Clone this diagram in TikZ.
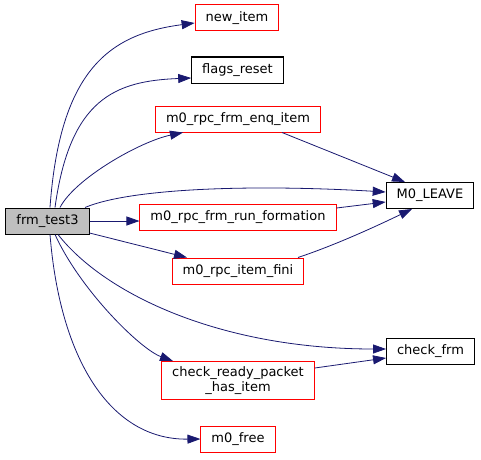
\documentclass[tikz,border=0pt]{standalone}
\usepackage{fontspec}
\setmainfont{DejaVu Sans}
\usepackage{tikz}
\usetikzlibrary{
  arrows.meta,
  positioning,
  calc
}
\definecolor{edgeblue}{HTML}{191970}
\definecolor{boxred}{HTML}{FF0000}

\begin{document}
\begin{tikzpicture}[
      x=1pt, y=1pt,
      >={Triangle[length=13pt,width=9pt]},
      every node/.style={font=\fontsize{13}{15}\selectfont},
      fnbox/.style={draw=black, line width=1pt, inner xsep=10.5pt, inner ysep=5pt, minimum height=26pt},
      fnred/.style={fnbox, draw=boxred},
      fnmain/.style={fnbox, fill=gray!50},
      call/.style={->, draw=edgeblue, line width=0.8pt}
  ]
      \useasboundingbox (0,0) rectangle (481,459);

      % Função principal
      \node[fnmain] (frm) at (47.5,238) {frm\_test3};

      % Funções chamadas
      \node[fnred] (newitem) at (237,441) {new\_item};
      \node[fnbox] (flagsreset) at (237.5,389) {flags\_reset};
      \node[fnred] (enqitem) at (238,340) {m0\_rpc\_frm\_enq\_item};
      \node[fnred] (runform) at (238,241.5) {m0\_rpc\_frm\_run\_formation};
      \node[fnred] (itemfini) at (238,188) {m0\_rpc\_item\_fini};
      \node[fnred, align=center] (checkready) at (238,78.5) {check\_ready\_packet\\\_has\_item};
      \node[fnred] (mfree) at (238,20) {m0\_free};

      % Folhas
      \node[fnbox] (leave) at (430,263.5) {M0\_LEAVE};
      \node[fnbox] (checkfrm) at (430.5,107.5) {check\_frm};

      % Chamadas de frm_test3
      \draw[call] ([xshift=2.5]frm.north) .. controls +(10,139) and +(-84,-11) .. ([yshift=-5]newitem.west);
      \draw[call] ([xshift=7.5]frm.north) .. controls +(15,109) and +(-76,-3) .. ([yshift=-8]flagsreset.west);
      \draw[call] ([xshift=12.5]frm.north) .. controls +(15,29) and +(-43,-9) .. ([xshift=-55]enqitem.south);
      \draw[call] ([xshift=37.5]frm.north) .. controls +(45,19) and +(-136,8) .. ([yshift=3.5]leave.west);
      \draw[call] (frm.east) -- (frm.east -| runform.west);
      \draw[call] ([yshift=-12]frm.east) -- ([xshift=-51]itemfini.north);
      \draw[call] ([xshift=10.5]frm.south) .. controls +(47,-60) and +(-165,0) .. ([yshift=2.5]checkfrm.west);
      \draw[call] ([xshift=7.5]frm.south) .. controls +(25,-55) and +(-33,12) .. ([xshift=-65]checkready.north);
      \draw[call] ([xshift=2.5]frm.south) .. controls +(10,-125) and +(-90,-1) .. (mfree.west);

      % Chamadas internas
      \draw[call] ([xshift=44]enqitem.south) -- ([xshift=-25]leave.north);
      \draw[call] ([yshift=9.5]runform.east) -- ([yshift=-6.5]leave.west);
      \draw[call] ([xshift=60]itemfini.north) .. controls +(42,14) and +(-27,-13) .. ([xshift=-18]leave.south);
      \draw[call] ([yshift=12.5]checkready.east) -- ([yshift=-6.5]checkfrm.west);

  \end{tikzpicture}
\end{document}
